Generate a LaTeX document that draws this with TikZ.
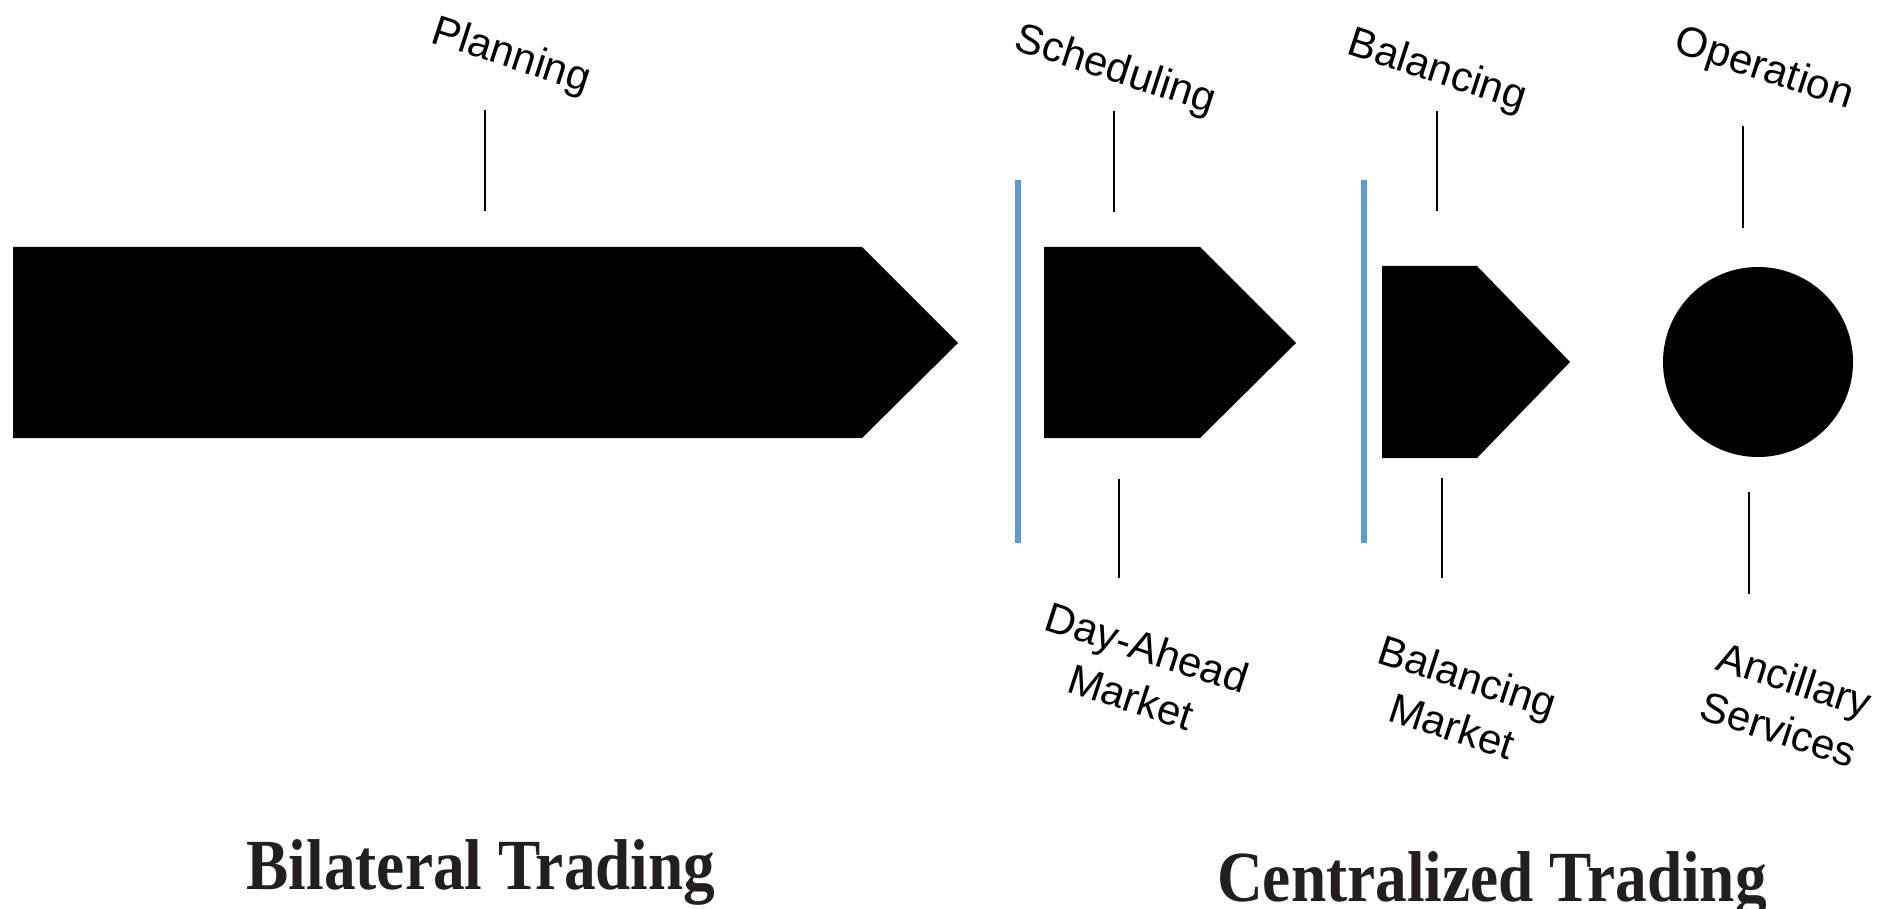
\documentclass[tikz,border=0pt]{standalone}
\usepackage{fontspec}
\newfontfamily\arialf{Liberation Sans}
\newfontfamily\tnrf{Liberation Serif}
\definecolor{blueline}{HTML}{5B9BD5}
\definecolor{darktext}{HTML}{231F20}
\begin{document}
\begin{tikzpicture}[x=1pt,y=-1pt,
  lbl/.style={font=\arialf\fontsize{42}{52}\selectfont, align=center, rotate=-18, inner sep=0pt},
  tick/.style={line width=2pt, black},
  sep/.style={line width=5.5pt, blueline},
  big/.style={font=\tnrf\bfseries\fontsize{72}{72}\selectfont, text=darktext, anchor=base, inner sep=0pt},
  stage/.style={fill=black}]
\useasboundingbox (0,0) rectangle (1878,909);
% shapes
\fill[stage] (13,247) -- (862,247) -- (958,343) -- (862,438) -- (13,438) -- cycle;
\fill[stage] (1044,247) -- (1200,247) -- (1296,343) -- (1200,438) -- (1044,438) -- cycle;
\fill[stage] (1382,266) -- (1477,266) -- (1570,362) -- (1477,458) -- (1382,458) -- cycle;
\node[circle, fill=black, minimum size=190pt, inner sep=0pt] (op) at (1758,362) {};
% separators
\coordinate (s1a) at (1018,180); \coordinate (s1b) at (1018,543);
\coordinate (s2a) at (1364,180); \coordinate (s2b) at (1364,543);
\draw[sep] (s1a) -- (s1b);
\draw[sep] (s2a) -- (s2b);
% ticks
\coordinate (t1a) at (485,110); \coordinate (t1b) at (485,211);
\coordinate (t2a) at (1114,111); \coordinate (t2b) at (1114,212);
\coordinate (t3a) at (1119,479); \coordinate (t3b) at (1119,578);
\coordinate (t4a) at (1437,111); \coordinate (t4b) at (1437,211);
\coordinate (t5a) at (1442,478); \coordinate (t5b) at (1442,578);
\coordinate (t6a) at (1743,126); \coordinate (t6b) at (1743,228);
\coordinate (t7a) at (1749,492); \coordinate (t7b) at (1749,594);
\draw[tick] (t1a) -- (t1b);
\draw[tick] (t2a) -- (t2b);
\draw[tick] (t3a) -- (t3b);
\draw[tick] (t4a) -- (t4b);
\draw[tick] (t5a) -- (t5b);
\draw[tick] (t6a) -- (t6b);
\draw[tick] (t7a) -- (t7b);
% labels
\node[lbl] (planning) at (511,57) {Planning};
\node[lbl] (sched) at (1115,71) {Scheduling};
\node[lbl] (bal) at (1437,72) {Balancing};
\node[lbl] (oper) at (1764,70) {Operation};
\node[lbl] (dam) at (1139,672) {Day-Ahead\\Market};
\node[lbl] (bm) at (1460,701) {Balancing\\Market};
\node[lbl] (anc) at (1787,704) {Ancillary\\Services};
\node[big] (bil) at (481,889) {\scalebox{0.88}[1]{Bilateral Trading}};
\node[big] (cen) at (1492,901) {\scalebox{0.88}[1]{Centralized Trading}};
\end{tikzpicture}
\end{document}
